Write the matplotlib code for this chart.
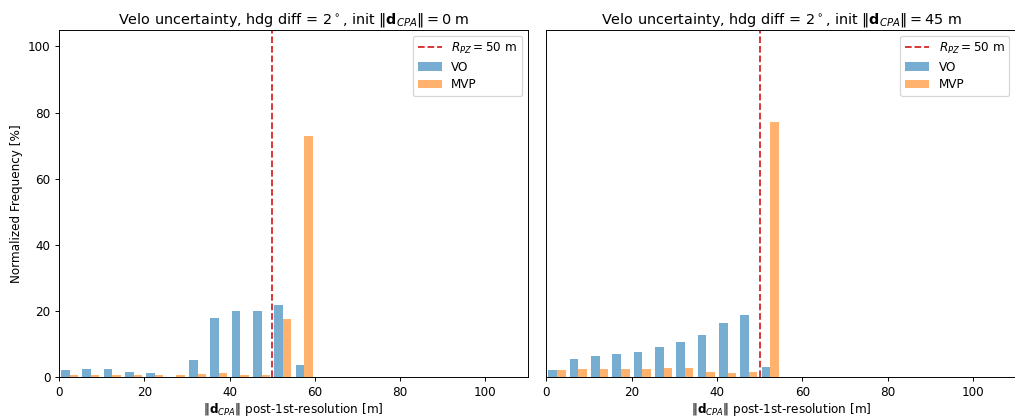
import numpy as np
import matplotlib.pyplot as plt

# histogram bins of 5 m, normalized frequency in percent
edges_0 = np.arange(0, 65, 5)
vo_0 = [2.2, 2.5, 2.5, 1.7, 1.4, 0.0, 5.2, 17.8, 19.9, 20.1, 21.9, 3.8]
mvp_0 = [0.7, 0.7, 0.7, 0.7, 0.7, 0.7, 1.0, 1.3, 0.8, 0.7, 17.6, 72.9]

edges_45 = np.arange(0, 60, 5)
vo_45 = [2.2, 5.5, 6.4, 7.0, 7.7, 9.2, 10.7, 12.8, 16.4, 18.9, 3.0]
mvp_45 = [2.3, 2.4, 2.4, 2.4, 2.5, 2.8, 2.8, 1.6, 1.3, 1.7, 77.2]

init_dist = [0, 45]
r_pz = 50

DPI = 86.4
fig, axes = plt.subplots(1, 2, figsize=(1016 / DPI, 420 / DPI), dpi=DPI)
fig.subplots_adjust(left=0.058, right=0.9995, bottom=0.102, top=0.929, wspace=0.039)

panels = [(edges_0, vo_0, mvp_0), (edges_45, vo_45, mvp_45)]
for ax, (edges, vo, mvp), d0 in zip(axes, panels, init_dist):
    centers = (edges[:-1] + edges[1:]) / 2
    ax.axvline(r_pz, color='tab:red', ls='--', label=r'$R_{PZ} = 50$ m')
    ax.hist([centers, centers], bins=edges, weights=[vo, mvp],
            color=['tab:blue', 'tab:orange'], alpha=0.6, label=['VO', 'MVP'])
    ax.set_xlim(0, 110)
    ax.set_ylim(0, 105)
    ax.set_xticks([0, 20, 40, 60, 80, 100])
    ax.set_title(r'Velo uncertainty, hdg diff = $2^\circ$, init $\|\mathbf{d}_{CPA}\| = %d$ m' % d0,
                 pad=5)
    ax.set_xlabel(r'$\|\mathbf{d}_{CPA}\|$ post-1st-resolution [m]', labelpad=2)
    ax.legend(loc='upper right', fontsize=10, labelspacing=0.4)

axes[0].set_ylabel('Normalized Frequency [%]')
axes[1].set_yticks([])

fig.savefig('out.png', dpi=DPI)
